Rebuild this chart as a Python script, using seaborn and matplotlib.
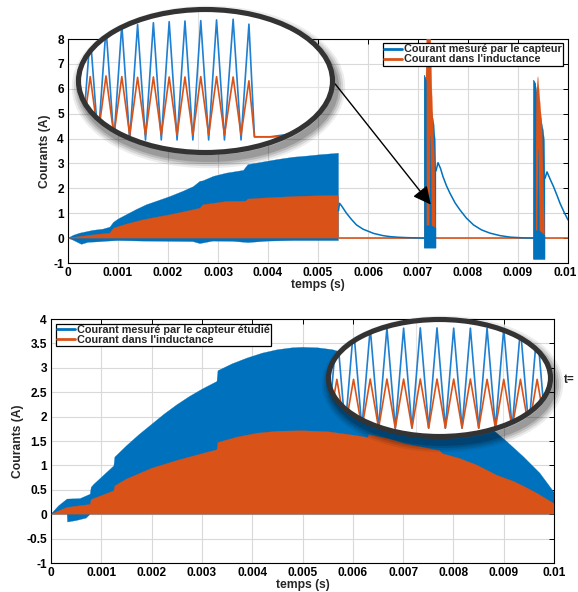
import numpy as np
import matplotlib
matplotlib.use("Agg")
import matplotlib.pyplot as plt
import matplotlib.transforms as mtransforms
from matplotlib.patches import Ellipse
from matplotlib.lines import Line2D
import seaborn as sns

BLUE = '#0072BD'
ORANGE = '#D95319'

# ---------------- top chart ----------------
top_blue_up_t = [0, 0.00012, 0.00024, 0.0005, 0.0007, 0.00084, 0.00091, 0.001, 0.00117, 0.00137,
                 0.00157, 0.0018, 0.00204, 0.0023, 0.00251, 0.00264, 0.0027, 0.00291, 0.00317,
                 0.00351, 0.0036, 0.0038, 0.00397, 0.0042, 0.00451, 0.0048, 0.00504, 0.00541]
top_blue_up = [0, 0.12, 0.2, 0.31, 0.36, 0.44, 0.63, 0.76, 0.94, 1.15,
               1.34, 1.5, 1.67, 1.88, 2.07, 2.28, 2.3, 2.48, 2.61,
               2.72, 2.95, 3.02, 3.08, 3.16, 3.25, 3.3, 3.35, 3.41]
top_blue_low_t = [0, 0.0001, 0.00027, 0.0004, 0.0006, 0.0008, 0.001, 0.0015, 0.002, 0.0025,
                  0.00264, 0.0029, 0.0033, 0.0036, 0.004, 0.0045, 0.005, 0.00541]
top_blue_low = [0, -0.08, -0.25, -0.17, -0.15, -0.12, -0.1, -0.12, -0.13, -0.14,
                -0.22, -0.12, -0.13, -0.18, -0.12, -0.1, -0.1, -0.1]
top_orange_up_t = [0, 0.0005, 0.00084, 0.00091, 0.0012, 0.00151, 0.00204, 0.0023, 0.00264,
                   0.0027, 0.00317, 0.00355, 0.0036, 0.004, 0.00451, 0.005, 0.00541]
top_orange_up = [0, 0.13, 0.2, 0.4, 0.58, 0.74, 0.94, 1.05, 1.2,
                 1.34, 1.47, 1.48, 1.57, 1.62, 1.67, 1.7, 1.71]

# decaying sensor current after each burst
decay1_t = [0.00541, 0.00543, 0.00547, 0.00552, 0.00557, 0.00567, 0.00577, 0.0059, 0.00611,
            0.0063, 0.00644, 0.0066, 0.00677, 0.0071, 0.00713]
decay1_v = [1.1, 1.4, 1.3, 1.15, 1.0, 0.75, 0.53, 0.36, 0.19,
            0.1, 0.06, 0.035, 0.02, 0.0, 0.0]
decay2_t = [0.00736, 0.0074, 0.00745, 0.0075, 0.00757, 0.00764, 0.00774, 0.00784, 0.00797,
            0.00811, 0.00827, 0.00844, 0.00864, 0.00884, 0.0091, 0.00931]
decay2_v = [2.7, 3.03, 2.8, 2.47, 2.1, 1.8, 1.42, 1.13, 0.8,
            0.53, 0.33, 0.2, 0.1, 0.04, 0.01, 0.0]
decay3_t = [0.00954, 0.00958, 0.00964, 0.00971, 0.00978, 0.00984, 0.00992, 0.01]
decay3_v = [2.4, 2.66, 2.38, 2.07, 1.72, 1.4, 1.05, 0.73]
orange_zero_t = [0.00541, 0.01]
orange_zero_v = [0, 0]

# bursts: back blue envelope, orange envelope, blue parts drawn in front
burst1_back_t = [0.007127, 0.007127, 0.00718, 0.00725, 0.007293, 0.00732, 0.007347, 0.00736]
burst1_back = [0, 6.55, 6.3, 5.4, 4.9, 4.6, 3.9, 2.7]
burst1_orange_t = [0.007133, 0.00716, 0.00718, 0.007247, 0.00728, 0.00731, 0.007333, 0.007347]
burst1_orange = [0, 6.5, 8.6, 8.6, 5.8, 4.2, 3.0, 0]
burst1_front_t = [0.007127, 0.007127, 0.00717, 0.00717, 0.007232, 0.007253, 0.007274, 0.00736]
burst1_front = [0, 6.55, 6.3, 0.5, 0.5, 4.1, 0.5, 0.4]
burst1_low = -0.4

burst2_back_t = [0.00931, 0.009313, 0.00935, 0.0094, 0.00948, 0.00951, 0.00953, 0.00954]
burst2_back = [0, 6.35, 6.2, 5.6, 4.6, 4.3, 3.9, 2.4]
burst2_orange_t = [0.009346, 0.00937, 0.0094, 0.00944, 0.00948, 0.00951, 0.009534]
burst2_orange = [0, 5.8, 6.49, 5.5, 4.48, 2.0, 0]
burst2_front_t = [0.00931, 0.009313, 0.009355, 0.009355, 0.00939, 0.00941, 0.00943, 0.00954]
burst2_front = [0, 6.35, 6.2, 0.3, 0.3, 3.55, 0.3, 0.1]
burst2_low = -0.85

# ---------------- bottom chart ----------------
bot_blue_up_t = [0, 0.00015, 0.00032, 0.00058, 0.00078, 0.0008, 0.00085, 0.00105, 0.00125,
                 0.00127, 0.0015, 0.00175, 0.002, 0.00225, 0.0025, 0.00275, 0.003, 0.0033,
                 0.00332, 0.0036, 0.0039, 0.0042, 0.0045, 0.0048, 0.005, 0.0053, 0.0056,
                 0.006, 0.007, 0.0075, 0.008, 0.0085, 0.00883, 0.00906, 0.00939, 0.00972, 0.01]
bot_blue_up = [0, 0.17, 0.31, 0.32, 0.41, 0.55, 0.61, 0.8, 0.99,
               1.17, 1.4, 1.63, 1.84, 2.05, 2.24, 2.41, 2.56, 2.72,
               2.94, 3.08, 3.2, 3.3, 3.37, 3.41, 3.42, 3.41, 3.37,
               3.25, 2.75, 2.85, 2.5, 2.05, 1.69, 1.49, 1.18, 0.84, 0.45]
bot_blue_low_t = [0, 0.00032, 0.00033, 0.0005, 0.0007, 0.00078, 0.01]
bot_blue_low = [0, 0, -0.16, -0.13, -0.08, 0, 0]
bot_orange_up_t = [0, 0.00032, 0.00078, 0.0008, 0.00085, 0.00125, 0.00127, 0.0015, 0.002,
                   0.0025, 0.003, 0.0033, 0.00332, 0.0037, 0.0041, 0.0045, 0.005, 0.0055,
                   0.006, 0.0063, 0.00632, 0.0067, 0.00705, 0.0074, 0.00773, 0.00778, 0.0081,
                   0.00846, 0.00886, 0.0092, 0.0094, 0.00966, 0.0099, 0.01]
bot_orange_up = [0, 0.14, 0.2, 0.3, 0.32, 0.48, 0.58, 0.72, 0.94,
                 1.1, 1.24, 1.32, 1.47, 1.58, 1.66, 1.7, 1.71, 1.69,
                 1.62, 1.57, 1.63, 1.55, 1.44, 1.37, 1.3, 1.24, 1.15,
                 1.01, 0.8, 0.67, 0.57, 0.43, 0.28, 0.22]

# ---------------- zoomed views (time in microseconds, current in A) ----------------
zoom_top_t = [0, 4, 9, 14, 19, 24, 29, 34, 39, 44, 49, 54, 59, 64, 69, 74, 79, 84, 89, 94,
              99.5, 104.5, 109.5, 113, 123, 165]
zoom_top_blue = [1.9, 0.0, 3.0, 0.0, 3.2, 0.0, 3.29, 0.0, 3.3, 0.0, 3.35, 0.0, 3.38, 0.0,
                 3.4, 0.0, 3.41, 0.0, 3.43, 0.0, 3.45, 0.0, 3.31, 0.09, 0.09, 0.35]
zoom_top_orange = [1.0, 0.14, 1.81, 0.14, 1.83, 0.14, 1.81, 0.14, 1.79, 0.14, 1.8, 0.14, 1.8,
                   0.14, 1.8, 0.14, 1.81, 0.14, 1.81, 0.14, 1.8, 0.14, 1.69, 0.09, 0.09, 0.09]
zoom_bot_t = [1.5, 6.5, 11.5, 16.5, 21.5, 26.5, 31.5, 36.5, 41.5, 46.5, 51.5, 56.5, 61.5, 66.5,
              71.5, 76.5, 81.5, 86.5, 91.5, 96.5, 101.5, 106.5, 111.5, 116.5, 121.5, 126.5,
              131.5, 136.5]
zoom_bot_blue = [0, 3.38, 0, 3.4, 0, 3.4, 0, 3.41, 0, 3.4, 0, 3.41, 0, 3.41,
                 0, 3.4, 0, 3.4, 0, 3.4, 0, 3.39, 0, 3.39, 0, 3.38, 0, 3.37]
zoom_bot_orange = [0, 1.66, 0, 1.66, 0, 1.67, 0, 1.67, 0, 1.67, 0, 1.67, 0, 1.67,
                   0, 1.67, 0, 1.67, 0, 1.66, 0, 1.66, 0, 1.66, 0, 1.66, 0, 1.65]

xticks = [0, 0.001, 0.002, 0.003, 0.004, 0.005, 0.006, 0.007, 0.008, 0.009, 0.01]
xtick_labels = ['0', '0.001', '0.002', '0.003', '0.004', '0.005', '0.006', '0.007',
                '0.008', '0.009', '0.01']
top_yticks = [-1, 0, 1, 2, 3, 4, 5, 6, 7, 8]
top_ytick_labels = ['-1', '0', '1', '2', '3', '4', '5', '6', '7', '8']
bot_yticks = [-1, -0.5, 0, 0.5, 1, 1.5, 2, 2.5, 3, 3.5, 4]
bot_ytick_labels = ['-1', '-0.5', '0', '0.5', '1', '1.5', '2', '2.5', '3', '3.5', '4']

sns.set_theme(style="whitegrid")
plt.rcParams['font.family'] = ['Liberation Sans', 'DejaVu Sans']
plt.rcParams['font.weight'] = 'bold'

W, H = 578, 592
fig = plt.figure(figsize=(W / 100, H / 100), dpi=100)
fig.patch.set_facecolor('white')


def px_rect(x0, y0, x1, y1):
    return [x0 / W, 1 - y1 / H, (x1 - x0) / W, (y1 - y0) / H]


def style(ax, yticks, ylabels, ylim):
    ax.set_facecolor('white')
    ax.set_xlim(0, 0.01)
    ax.set_ylim(*ylim)
    ax.set_xticks(xticks, xtick_labels)
    ax.set_yticks(yticks, ylabels)
    ax.grid(True, color='#d9d9d9', lw=0.8)
    ax.set_axisbelow(True)
    for s in ax.spines.values():
        s.set_color('black')
        s.set_linewidth(0.8)
    ax.tick_params(direction='in', top=True, right=True, length=3.5, width=0.7,
                   labelsize=8.6, pad=3.0, colors='black')
    for lab in ax.get_xticklabels() + ax.get_yticklabels():
        lab.set_fontweight('bold')
    ax.set_xlabel('temps (s)', fontsize=8.7, fontweight='bold', labelpad=0)
    ax.set_ylabel('Courants (A)', fontsize=8.7, fontweight='bold', labelpad=1.5)


def band(ax, t_up, v_up, t_low, v_low, color, z):
    xs = list(t_up) + list(t_low)[::-1]
    ys = list(v_up) + list(v_low)[::-1]
    ax.fill(xs, ys, color=color, lw=0.2, ec=color, zorder=z)


def line(ax, t, v, color, lw=1.1, z=3):
    sns.lineplot(x=t, y=v, ax=ax, color=color, lw=lw, sort=False, estimator=None, zorder=z)


def burst(ax, back_t, back, orange_t, orange, front_t, front, low):
    band(ax, back_t, back, [back_t[0], back_t[-1]], [low, low], BLUE, 4)
    band(ax, orange_t, orange, [orange_t[0], orange_t[-1]], [0, 0], ORANGE, 5)
    band(ax, front_t, front, [front_t[0], front_t[-1]], [low, low], BLUE, 6)


def legend(ax, labels, loc, anchor):
    handles = [Line2D([], [], color=BLUE, lw=2), Line2D([], [], color=ORANGE, lw=2)]
    leg = ax.legend(handles, labels, loc=loc, bbox_to_anchor=anchor, fancybox=False,
                    framealpha=1, edgecolor='black', fontsize=7.8, handlelength=1.6,
                    handletextpad=0.2, labelspacing=0.0, borderpad=0.12, borderaxespad=0)
    leg.get_frame().set_linewidth(0.9)
    for tx in leg.get_texts():
        tx.set_fontweight('bold')
    leg.set_zorder(20)


def zoom_view(rect_px, xlim, ylim, t, blue, orange, gx, gy):
    x0, y0, x1, y1 = rect_px
    axi = fig.add_axes(px_rect(x0, y0, x1, y1))
    axi.set_xlim(*xlim)
    axi.set_ylim(*ylim)
    axi.axis('off')
    ew, eh = 1 - 5 / (x1 - x0), 1 - 5 / (y1 - y0)
    for i, lw in enumerate([14, 11, 8, 5]):
        sh = Ellipse((0.5 + 3 / (x1 - x0), 0.5 - 6 / (y1 - y0)), ew, eh, transform=axi.transAxes,
                     fill=False, ec='black', lw=lw, alpha=0.07 + 0.03 * i, clip_on=False, zorder=1)
        axi.add_patch(sh)
    face = Ellipse((0.5, 0.5), ew, eh, transform=axi.transAxes, fc='white', ec='none',
                   clip_on=False, zorder=2)
    axi.add_patch(face)
    for g in gx:
        axi.axvline(g, color='#e4e4e4', lw=0.8, zorder=3).set_clip_path(face)
    for g in gy:
        axi.axhline(g, color='#e4e4e4', lw=0.8, zorder=3).set_clip_path(face)
    line(axi, t, blue, '#1f7fd1', lw=1.2, z=4)
    line(axi, t, orange, ORANGE, lw=1.2, z=5)
    for ln in axi.lines[-2:]:
        ln.set_clip_path(face)
    ring = Ellipse((0.5, 0.5), ew, eh, transform=axi.transAxes, fill=False, ec='#333333',
                   lw=3.7, clip_on=False, zorder=6)
    axi.add_patch(ring)
    return axi


# ---------------- top chart ----------------
ax1 = fig.add_axes(px_rect(68, 39, 568, 263))
band(ax1, top_blue_up_t, top_blue_up, top_blue_low_t, top_blue_low, BLUE, 2)
band(ax1, top_orange_up_t, top_orange_up, [0, 0.00541], [0, 0], ORANGE, 3)
line(ax1, orange_zero_t, orange_zero_v, ORANGE, lw=1.2, z=2.5)
line(ax1, decay1_t, decay1_v, BLUE)
line(ax1, decay2_t, decay2_v, BLUE)
line(ax1, decay3_t, decay3_v, BLUE)
burst(ax1, burst1_back_t, burst1_back, burst1_orange_t, burst1_orange,
      burst1_front_t, burst1_front, burst1_low)
burst(ax1, burst2_back_t, burst2_back, burst2_orange_t, burst2_orange,
      burst2_front_t, burst2_front, burst2_low)
style(ax1, top_yticks, top_ytick_labels, (-1, 8))
legend(ax1, ['Courant mesuré par le capteur', "Courant dans l'inductance"],
       'upper right', (0.99, 0.982))
ax1.annotate('', xy=(0.00729, 1.26), xytext=(0.00531, 6.28),
             arrowprops=dict(arrowstyle='-|>,head_length=0.6,head_width=0.3',
                             color='black', lw=1.0, mutation_scale=18), zorder=15)
# last label of the top chart sits at the figure edge: nudge it in a little
last = ax1.get_xticklabels()[-1]
last.set_transform(last.get_transform() +
                   mtransforms.ScaledTranslation(-3 / 100, 0, fig.dpi_scale_trans))

# ---------------- bottom chart ----------------
ax2 = fig.add_axes(px_rect(51, 319, 554, 563))
band(ax2, bot_blue_up_t, bot_blue_up, bot_blue_low_t, bot_blue_low, BLUE, 2)
band(ax2, bot_orange_up_t, bot_orange_up, [0, 0.01], [0, 0], ORANGE, 3)
style(ax2, bot_yticks, bot_ytick_labels, (-1, 4))
legend(ax2, ['Courant mesuré par le capteur étudié', "Courant dans l'inductance"],
       'upper left', (0.01, 0.98))

# ---------------- zoom ellipses ----------------
zoom_view((76, 7, 335, 155), (0, 164), (-0.43, 3.8), zoom_top_t, zoom_top_blue,
          zoom_top_orange, [77, 153], [1.51, 2.23])
zoom_view((326, 317, 553, 439), (0, 136), (-0.37, 3.78), zoom_bot_t, zoom_bot_blue,
          zoom_bot_orange, [54, 106], [1.97])

fig.text(564 / W, 1 - 380 / H, 't=', fontsize=8.5, fontweight='bold', va='center',
         ha='left', rotation=0)

fig.savefig('out.png', dpi=100, facecolor='white')
